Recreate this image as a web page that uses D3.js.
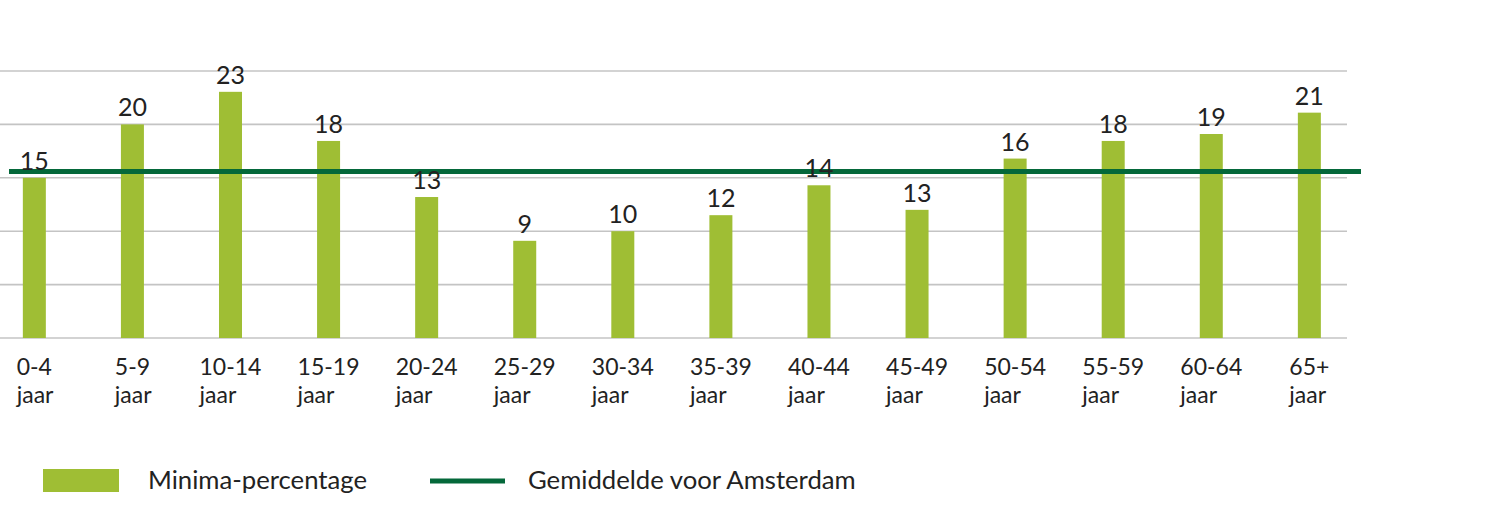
<!DOCTYPE html>
<html>
<head>
<meta charset="utf-8">
<script src="https://cdn.jsdelivr.net/npm/d3@7"></script>
<style>
  body { margin: 0; background: #fff; }
  svg { display: block; font-family: Lato, "Open Sans", sans-serif; }
</style>
</head>
<body>
<svg width="1491" height="522"></svg>
<script>
// leeftijdsgroepen (categories)
var groups = ["0-4", "5-9", "10-14", "15-19", "20-24", "25-29", "30-34",
  "35-39", "40-44", "45-49", "50-54", "55-59", "60-64", "65+"];
// bar heights
var minima = [15.0, 20.0, 23.05, 18.45, 13.2, 9.1, 10.0, 11.5, 14.3, 12.0, 16.8, 18.45, 19.1, 21.1];
// numbers printed above the bars
var labels = [15, 20, 23, 18, 13, 9, 10, 12, 14, 13, 16, 18, 19, 21];
var average = 15.6;
var yTicks = [0, 5, 10, 15, 20, 25];

var svg = d3.select("svg");
var barGreen = "#9fbe34",
  darkGreen = "#04683a",
  textColor = "#222222";

var x = d3.scaleBand()
  .domain(groups)
  .range([-14.7, 1358.4])
  .padding(0);

var y = d3.scaleLinear()
  .domain([0, 25])
  .range([338, 71]);

var barW = 23;

// gridlines
svg.append("g")
  .selectAll("line")
  .data(yTicks)
  .enter()
  .append("line")
  .attr("x1", 0)
  .attr("x2", 1347)
  .attr("y1", (d) => y(d))
  .attr("y2", (d) => y(d))
  .attr("stroke", "#c4c4c4")
  .attr("stroke-width", 1.6);

// bars
svg.append("g")
  .selectAll("rect")
  .data(groups)
  .enter()
  .append("rect")
  .attr("x", (d) => x(d) + x.bandwidth() / 2 - barW / 2)
  .attr("y", (d, i) => y(minima[i]))
  .attr("width", barW)
  .attr("height", (d, i) => y(0) - y(minima[i]))
  .attr("fill", barGreen);

// average line
svg.append("line")
  .attr("x1", 9)
  .attr("x2", 1361)
  .attr("y1", y(average))
  .attr("y2", y(average))
  .attr("stroke", darkGreen)
  .attr("stroke-width", 5);

// value labels
svg.append("g")
  .selectAll("text")
  .data(groups)
  .enter()
  .append("text")
  .attr("x", (d) => x(d) + x.bandwidth() / 2)
  .attr("y", (d, i) => y(minima[i]) - 8)
  .attr("text-anchor", "middle")
  .attr("font-size", "25px")
  .attr("fill", textColor)
  .text((d, i) => labels[i]);

// category labels: two lines, left aligned, first line centred on the bar
svg.append("g")
  .selectAll("text")
  .data(groups)
  .enter()
  .append("text")
  .attr("font-size", "23px")
  .attr("fill", textColor)
  .each(function (d) {
    var t = d3.select(this);
    var line1 = t.append("tspan").attr("y", 375).text(d);
    var w = line1.node().getComputedTextLength();
    var left = x(d) + x.bandwidth() / 2 - w / 2;
    line1.attr("x", left);
    t.append("tspan")
      .attr("x", left)
      .attr("y", 403)
      .text("jaar");
  });

// legend
var legend = svg.append("g");
legend.append("rect")
  .attr("x", 43)
  .attr("y", 469)
  .attr("width", 76)
  .attr("height", 23)
  .attr("fill", barGreen);
legend.append("text")
  .attr("x", 148)
  .attr("y", 489)
  .attr("font-size", "25.7px")
  .attr("fill", textColor)
  .text("Minima-percentage");
legend.append("line")
  .attr("x1", 430)
  .attr("x2", 505)
  .attr("y1", 481)
  .attr("y2", 481)
  .attr("stroke", darkGreen)
  .attr("stroke-width", 5);
legend.append("text")
  .attr("x", 528)
  .attr("y", 489)
  .attr("font-size", "25.7px")
  .attr("fill", textColor)
  .text("Gemiddelde voor Amsterdam");
</script>
</body>
</html>
